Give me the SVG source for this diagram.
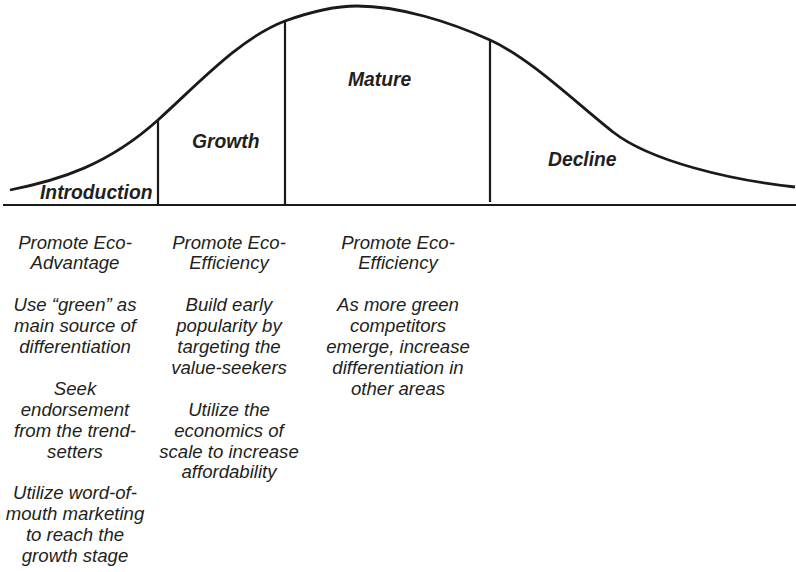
<svg xmlns="http://www.w3.org/2000/svg" width="796" height="572" viewBox="0 0 796 572">
<style>
.ln{stroke:#1a1a1a;stroke-width:2.2;fill:none}
.crv{stroke:#1a1a1a;stroke-width:2.8;fill:none}
.stage{font-family:"Liberation Sans",Arial,sans-serif;font-size:19.3px;font-weight:bold;font-style:italic;fill:#231f20}
.body{font-family:"Liberation Sans",Arial,sans-serif;font-size:18.6px;font-style:italic;fill:#231f20;text-anchor:middle}
</style>
<rect width="796" height="572" fill="#fff"/>
<g id="curve">
<path class="crv" d="M10,190 C60,180 108,165 158,120 C198,84 240,38 285,21 C310,12 335,6 357,6 C400,6 450,22 490,40 C530,58 575,102 613,132 C650,161 730,180 795,187"/>
<line class="ln" x1="3" y1="205" x2="796" y2="205"/>
<line class="ln" x1="158" y1="120" x2="158" y2="205"/>
<line class="ln" x1="285" y1="21" x2="285" y2="205"/>
<line class="ln" x1="490" y1="40" x2="490" y2="202"/>
</g>
<g id="introduction">
<text class="stage" x="40" y="199">Introduction</text>
<text class="body"><tspan x="75" y="248.5">Promote Eco-</tspan><tspan x="75" y="269.4">Advantage</tspan><tspan x="75" y="311.2">Use “green” as</tspan><tspan x="75" y="332.1">main source of</tspan><tspan x="75" y="353">differentiation</tspan><tspan x="75" y="394.8">Seek</tspan><tspan x="75" y="415.7">endorsement</tspan><tspan x="75" y="436.6">from the trend-</tspan><tspan x="75" y="457.5">setters</tspan><tspan x="75" y="499.3">Utilize word-of-</tspan><tspan x="75" y="520.2">mouth marketing</tspan><tspan x="75" y="541.1">to reach the</tspan><tspan x="75" y="562">growth stage</tspan></text>
</g>
<g id="growth">
<text class="stage" x="192" y="148">Growth</text>
<text class="body"><tspan x="229" y="248.5">Promote Eco-</tspan><tspan x="229" y="269.4">Efficiency</tspan><tspan x="229" y="311.2">Build early</tspan><tspan x="229" y="332.1">popularity by</tspan><tspan x="229" y="353">targeting the</tspan><tspan x="229" y="373.9">value-seekers</tspan><tspan x="229" y="415.7">Utilize the</tspan><tspan x="229" y="436.6">economics of</tspan><tspan x="229" y="457.5">scale to increase</tspan><tspan x="229" y="478.4">affordability</tspan></text>
</g>
<g id="mature">
<text class="stage" x="348" y="86">Mature</text>
<text class="body"><tspan x="398" y="248.5">Promote Eco-</tspan><tspan x="398" y="269.4">Efficiency</tspan><tspan x="398" y="311.2">As more green</tspan><tspan x="398" y="332.1">competitors</tspan><tspan x="398" y="353">emerge, increase</tspan><tspan x="398" y="373.9">differentiation in</tspan><tspan x="398" y="394.8">other areas</tspan></text>
</g>
<g id="decline">
<text class="stage" x="548" y="166">Decline</text>
</g>
</svg>
